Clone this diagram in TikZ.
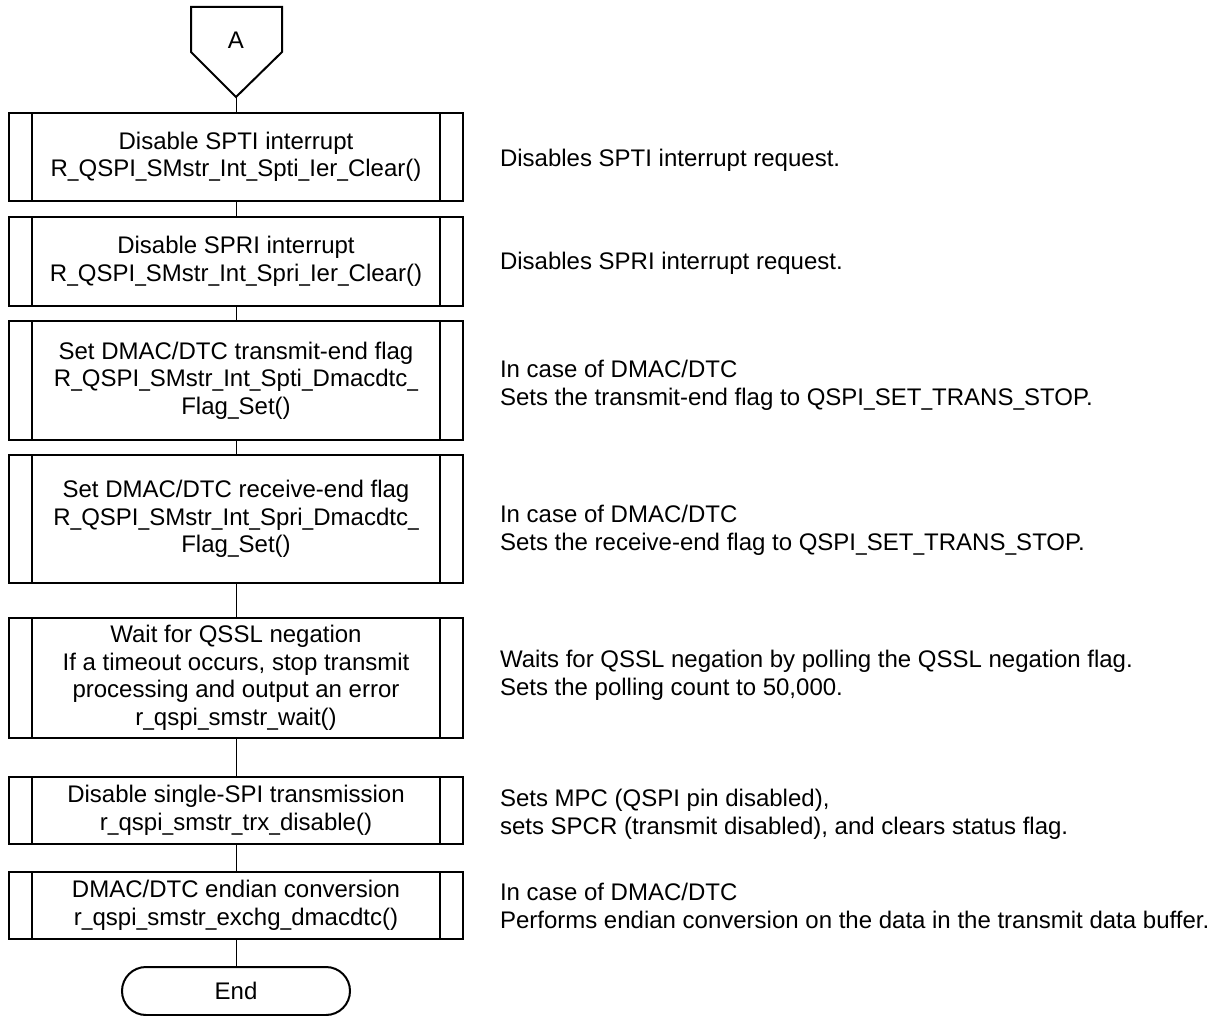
\documentclass[tikz,border=0pt]{standalone}
\usepackage{graphicx}
\usepackage{fontspec}
\setmainfont{Liberation Sans}
\newcommand\us{\scalebox{0.8}[1]{\_}}
\begin{document}
\begin{tikzpicture}[x=1pt,y=-1pt,
  every node/.style={font=\fontsize{24pt}{27.5pt}\selectfont, outer sep=0pt},
  proc/.style={draw, line width=2pt, minimum width=454pt, align=center, inner sep=0pt},
  term/.style={draw, line width=2pt, minimum width=228pt, minimum height=48pt, rounded corners=24pt, inner sep=0pt},
  desc/.style={anchor=base west, inner sep=0pt, font=\fontsize{24pt}{28pt}\selectfont},
  conn/.style={line width=1pt},
  edge2/.style={line width=2pt},
]
\useasboundingbox (0,0) rectangle (1219,1016);

% off-page connector A
\coordinate (Atip) at (236,97);
\draw[edge2, line join=miter] (191,7) -- (282,7) -- (282,52) -- (Atip) -- (191,52) -- cycle;
\node (A) at (236,40) {A};

% process boxes
\node[proc, minimum height=88pt] (b1) at (236,157) {Disable SPTI interrupt\\R\us QSPI\us SMstr\us Int\us Spti\us Ier\us Clear()};
\node[proc, minimum height=89pt] (b2) at (236,261.5) {Disable SPRI interrupt\\R\us QSPI\us SMstr\us Int\us Spri\us Ier\us Clear()};
\node[proc, minimum height=119pt] (b3) at (236,380.5) {Set DMAC/DTC transmit-end flag\\R\us QSPI\us SMstr\us Int\us Spti\us Dmacdtc\us\\Flag\us Set()};
\node[proc, minimum height=128pt] (b4) at (236,519) {Set DMAC/DTC receive-end flag\\R\us QSPI\us SMstr\us Int\us Spri\us Dmacdtc\us\\Flag\us Set()};
\node[proc, minimum height=120pt] (b5) at (236,678) {Wait for QSSL negation\\If a timeout occurs, stop transmit\\processing and output an error\\r\us qspi\us smstr\us wait()};
\node[proc, minimum height=67pt] (b6) at (236,810.5) {Disable single-SPI transmission\\r\us qspi\us smstr\us trx\us disable()};
\node[proc, minimum height=67pt] (b7) at (236,905.5) {DMAC/DTC endian conversion\\r\us qspi\us smstr\us exchg\us dmacdtc()};
\node[term] (end) at (236,991) {End};

% inner vertical bars of predefined-process boxes
\foreach \n in {b1,b2,b3,b4,b5,b6,b7}{
  \draw[edge2] ([xshift=23pt]\n.north west) -- ([xshift=23pt]\n.south west);
  \draw[edge2] ([xshift=-23pt]\n.north east) -- ([xshift=-23pt]\n.south east);
}

% connectors
\draw[conn] (Atip) -- (b1.north);
\draw[conn] (b1.south) -- (b2.north);
\draw[conn] (b2.south) -- (b3.north);
\draw[conn] (b3.south) -- (b4.north);
\draw[conn] (b4.south) -- (b5.north);
\draw[conn] (b5.south) -- (b6.north);
\draw[conn] (b6.south) -- (b7.north);
\draw[conn] (b7.south) -- (end.north);

% descriptions
\node[desc] (d1) at (500,167) {Disables SPTI interrupt request.};
\node[desc] (d2) at (500,270) {Disables SPRI interrupt request.};
\node[desc] (d3) at (500,378) {\begin{tabular}[t]{@{}l@{}}In case of DMAC/DTC\\Sets the transmit-end flag to QSPI\us SET\us TRANS\us STOP.\end{tabular}};
\node[desc] (d4) at (500,522) {\begin{tabular}[t]{@{}l@{}}In case of DMAC/DTC\\Sets the receive-end flag to QSPI\us SET\us TRANS\us STOP.\end{tabular}};
\node[desc] (d5) at (500,667) {\begin{tabular}[t]{@{}l@{}}Waits for QSSL negation by polling the QSSL negation flag.\\Sets the polling count to 50,000.\end{tabular}};
\node[desc] (d6) at (500,806) {\begin{tabular}[t]{@{}l@{}}Sets MPC (QSPI pin disabled),\\sets SPCR (transmit disabled), and clears status flag.\end{tabular}};
\node[desc] (d7) at (500,900) {\begin{tabular}[t]{@{}l@{}}In case of DMAC/DTC\\Performs endian conversion on the data in the transmit data buffer.\end{tabular}};
\end{tikzpicture}
\end{document}
